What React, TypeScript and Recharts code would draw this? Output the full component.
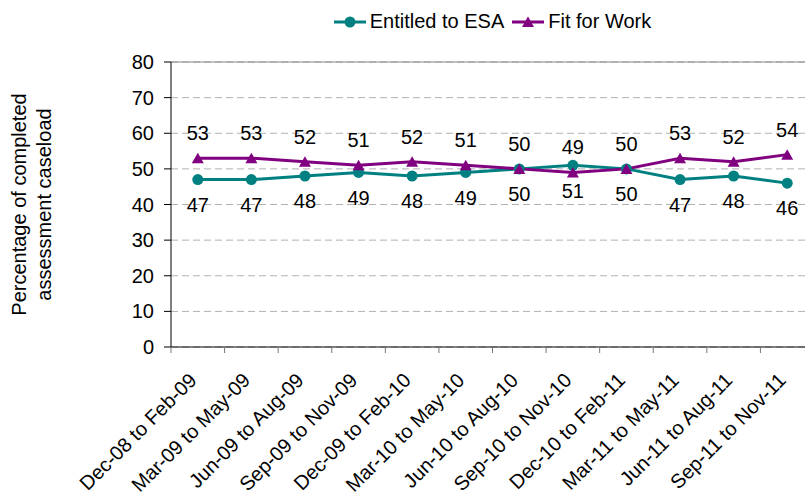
import React from 'react';
import {
  LineChart,
  Line,
  XAxis,
  YAxis,
  CartesianGrid,
  Legend,
  LabelList,
  ReferenceLine,
} from 'recharts';

const categories = [
  'Dec-08 to Feb-09',
  'Mar-09 to May-09',
  'Jun-09 to Aug-09',
  'Sep-09 to Nov-09',
  'Dec-09 to Feb-10',
  'Mar-10 to May-10',
  'Jun-10 to Aug-10',
  'Sep-10 to Nov-10',
  'Dec-10 to Feb-11',
  'Mar-11 to May-11',
  'Jun-11 to Aug-11',
  'Sep-11 to Nov-11',
];

const entitledToESA = [47, 47, 48, 49, 48, 49, 50, 51, 50, 47, 48, 46];
const fitForWork = [53, 53, 52, 51, 52, 51, 50, 49, 50, 53, 52, 54];

const yTicks = [0, 10, 20, 30, 40, 50, 60, 70, 80];

const TEAL = '#008080';
const PURPLE = '#800080';
const FONT = '"Liberation Sans", Arial, Helvetica, sans-serif';

const seriesNames = { entitled: 'Entitled to ESA', fit: 'Fit for Work' };
const yLabelLines = ['Percentage of completed', 'assessment caseload'];

const data = categories.map((period, i) => ({
  period,
  entitled: entitledToESA[i],
  fit: fitForWork[i],
}));

const XTick = (props: any) => {
  const { x, y, payload } = props;
  const half = payload && typeof payload.offset === 'number' ? payload.offset : 0;
  const tx = x;
  const ty = y + 28.5;
  return (
    <g>
      <line x1={x - half} x2={x - half} y1={y - 6} y2={y} stroke="#777" strokeWidth={1} />
      <text
        x={tx}
        y={ty}
        transform={`rotate(-45 ${tx} ${ty})`}
        textAnchor="end"
        fontSize={20}
        fill="#000"
      >
        {payload.value}
      </text>
    </g>
  );
};

const CircleDot = (props: any) => {
  const { cx, cy } = props;
  if (cx == null || cy == null) return null;
  return <circle cx={cx} cy={cy} r={5.5} fill={TEAL} stroke="none" />;
};

const TriangleDot = (props: any) => {
  const { cx, cy } = props;
  if (cx == null || cy == null) return null;
  return (
    <path d={`M${cx},${cy - 5.5}L${cx + 6},${cy + 5}L${cx - 6},${cy + 5}Z`} fill={PURPLE} stroke="none" />
  );
};

const YLabel = (props: any) => {
  const vb = props.viewBox || { x: 0, y: 62, width: 171, height: 285 };
  const cx = 26;
  const cy = vb.y + vb.height / 2;
  return (
    <text
      x={cx}
      y={cy}
      transform={`rotate(-90 ${cx} ${cy})`}
      textAnchor="middle"
      fontSize={20}
      fill="#000"
    >
      <tspan x={cx} dy={0}>{yLabelLines[0]}</tspan>
      <tspan x={cx} dy={25}>{yLabelLines[1]}</tspan>
    </text>
  );
};

const LegendIcon = ({ color, marker }: { color: string; marker: 'circle' | 'triangle' }) => (
  <svg width={32} height={14} style={{ display: 'block' }}>
    <line x1={0} y1={7} x2={32} y2={7} stroke={color} strokeWidth={3} />
    {marker === 'circle' ? (
      <circle cx={16} cy={7} r={5.5} fill={color} />
    ) : (
      <path d="M16,1.5L22,12L10,12Z" fill={color} />
    )}
  </svg>
);

const renderLegend = () => (
  <div
    style={{
      display: 'flex',
      justifyContent: 'center',
      alignItems: 'center',
      fontFamily: FONT,
      fontSize: 20,
      color: '#000',
      lineHeight: '23px',
    }}
  >
    <div style={{ display: 'flex', alignItems: 'center', marginRight: 8 }}>
      <LegendIcon color={TEAL} marker="circle" />
      <span style={{ marginLeft: 4 }}>{seriesNames.entitled}</span>
    </div>
    <div style={{ display: 'flex', alignItems: 'center' }}>
      <LegendIcon color={PURPLE} marker="triangle" />
      <span style={{ marginLeft: 4 }}>{seriesNames.fit}</span>
    </div>
  </div>
);

export default function App() {
  return (
    <div
      style={{
        position: 'fixed',
        left: 0,
        top: 0,
        width: 805,
        height: 495,
        overflow: 'hidden',
        background: '#fff',
        fontFamily: FONT,
      }}
    >
      <LineChart
        width={830}
        height={495}
        data={data}
        margin={{ top: 62, right: 16, bottom: 0, left: 0 }}
        style={{ fontFamily: FONT }}
      >
        <CartesianGrid vertical={false} stroke="#b0b0b0" strokeDasharray="7 4" />
        <ReferenceLine y={80} stroke="#888" strokeWidth={1} />
        <XAxis
          dataKey="period"
          scale="band"
          interval={0}
          height={148}
          tickSize={6}
          tickMargin={0}
          tickLine={false}
          axisLine={{ stroke: '#000', strokeWidth: 1 }}
          tick={<XTick />}
        />
        <YAxis
          domain={[0, 80]}
          ticks={yTicks}
          interval={0}
          width={171}
          tickSize={7}
          tickMargin={10}
          axisLine={{ stroke: '#000', strokeWidth: 1 }}
          tickLine={{ stroke: '#000', strokeWidth: 1 }}
          tick={{ fill: '#000', fontSize: 20 }}
          label={{ content: YLabel }}
        />
        <Legend
          verticalAlign="middle"
          align="center"
          layout="horizontal"
          wrapperStyle={{ top: 10, left: 171, width: 643 }}
          content={renderLegend}
        />
        <Line
          dataKey="entitled"
          name={seriesNames.entitled}
          stroke={TEAL}
          strokeWidth={3}
          dot={<CircleDot />}
          activeDot={false}
          isAnimationActive={false}
        >
          <LabelList dataKey="entitled" position="bottom" offset={18} fill="#000" fontSize={20} />
        </Line>
        <Line
          dataKey="fit"
          name={seriesNames.fit}
          stroke={PURPLE}
          strokeWidth={3}
          dot={<TriangleDot />}
          activeDot={false}
          isAnimationActive={false}
        >
          <LabelList dataKey="fit" position="top" offset={18} fill="#000" fontSize={20} />
        </Line>
      </LineChart>
    </div>
  );
}
